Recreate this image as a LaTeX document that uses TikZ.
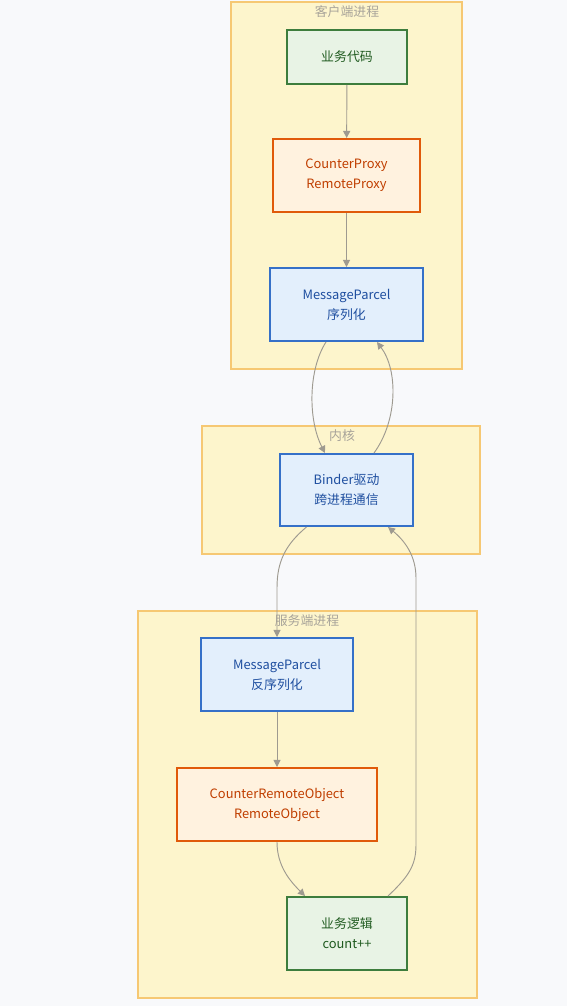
\documentclass[tikz,border=0pt]{standalone}
\usepackage{fontspec}
\setmainfont{Noto Sans CJK SC}
\usetikzlibrary{arrows.meta,calc}

\definecolor{pagebg}{HTML}{F8F9FB}
\definecolor{clusterfill}{HTML}{FDF5CC}
\definecolor{clusterline}{HTML}{F6C873}
\definecolor{clustertext}{HTML}{A8A49A}
\definecolor{greenline}{HTML}{3D7D3D}
\definecolor{greenfill}{HTML}{E8F3E5}
\definecolor{greentext}{HTML}{1F5A1F}
\definecolor{orangeline}{HTML}{E05A0A}
\definecolor{orangefill}{HTML}{FFF2DF}
\definecolor{orangetext}{HTML}{C03E00}
\definecolor{blueline}{HTML}{3570C8}
\definecolor{bluefill}{HTML}{E3EFFC}
\definecolor{bluetext}{HTML}{1F4FA0}
\definecolor{edgegray}{HTML}{9E9A90}

\begin{document}
\begin{tikzpicture}[
  x=0.03cm,y=-0.03cm,
  cluster/.style={draw=clusterline,fill=clusterfill,line width=0.9pt},
  clustertitle/.style={font=\fontsize{11}{13}\selectfont,text=clustertext},
  box/.style={draw,line width=1.7pt,align=center,inner sep=0pt,
    font=\fontsize{11}{17}\selectfont},
  greenbox/.style={box,draw=greenline,fill=greenfill,text=greentext},
  orangebox/.style={box,draw=orangeline,fill=orangefill,text=orangetext},
  bluebox/.style={box,draw=blueline,fill=bluefill,text=bluetext},
  link/.style={draw=edgegray,line width=0.8pt,-{Triangle[length=6pt,width=6pt]}},
]

% background
\fill[pagebg] (0,0) rectangle (567,1006);

% Client process
\draw[cluster] (231,2) rectangle (462,369);
\node[clustertitle] (clienttitle) at (347,12) {客户端进程};
\node[greenbox,minimum width=3.6cm,minimum height=1.62cm] (bizcode) at (347,57) {业务代码};
\node[orangebox,minimum width=4.41cm,minimum height=2.19cm] (proxy) at (346.5,175.5) {CounterProxy\\RemoteProxy};
\node[bluebox,minimum width=4.59cm,minimum height=2.19cm] (parcelout) at (346.5,304.5) {MessageParcel\\序列化};

% Kernel
\draw[cluster] (202,426) rectangle (480,554);
\node[clustertitle] (kerneltitle) at (342,436) {内核};
\node[bluebox,minimum width=3.99cm,minimum height=2.16cm] (binder) at (346.5,490) {Binder驱动\\跨进程通信};

% Server process
\draw[cluster] (138,611) rectangle (477,998);
\node[clustertitle] (servertitle) at (307,621) {服务端进程};
\node[bluebox,minimum width=4.56cm,minimum height=2.19cm] (parcelin) at (277,674.5) {MessageParcel\\反序列化};
\node[orangebox,minimum width=6cm,minimum height=2.19cm] (remoteobj) at (277,804.5) {CounterRemoteObject\\RemoteObject};
\node[greenbox,minimum width=3.6cm,minimum height=2.19cm] (logic) at (347,933.5) {业务逻辑\\count++};

% links
\draw[link] (bizcode) -- (proxy);
\draw[link] (proxy) -- (parcelout);
\draw[link] ($(parcelout.south)+(-20.5,0)$) .. controls (308,370) and (308,420) .. ($(binder.north)+(-21.5,0)$);
\draw[link] ($(binder.north)+(27.5,0)$) .. controls (398,420) and (398,370) .. ($(parcelout.south)+(30.5,0)$);
\draw[link] ($(binder.south)+(-40,0)$) .. controls (285,545) and (277,562) .. (277,588) -- (parcelin.north);
\draw[link] (parcelin) -- (remoteobj);
\draw[link] (remoteobj.south) .. controls (277,866) and (290,881) .. ($(logic.north)+(-42,0)$);
\draw[link] ($(logic.north)+(41,0)$) .. controls (408,877) and (416,866) .. (416,845)
  -- (416,578) .. controls (416,556) and (405,541) .. ($(binder.south)+(41.5,0)$);

\end{tikzpicture}
\end{document}
